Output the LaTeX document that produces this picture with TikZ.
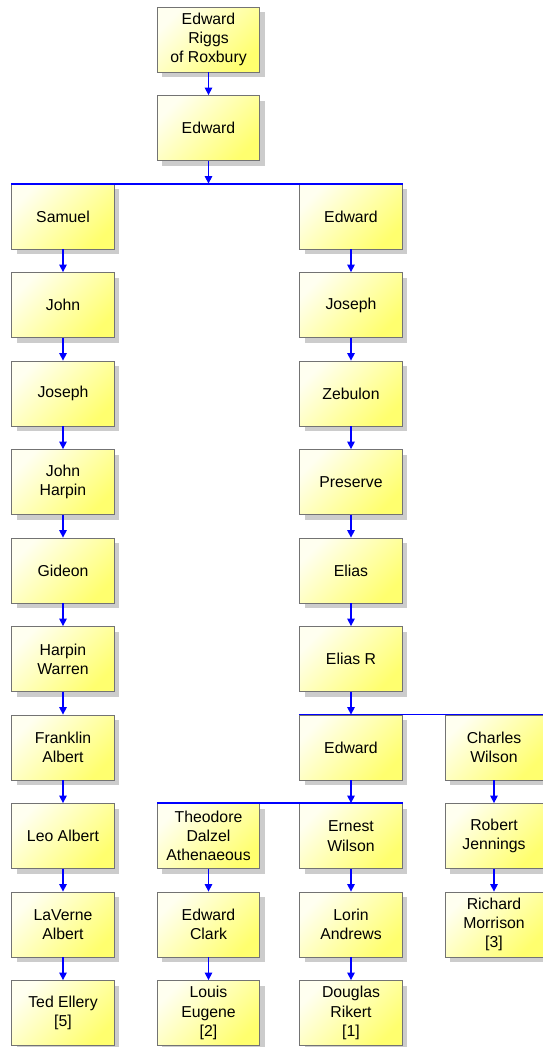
\documentclass[tikz,border=0pt]{standalone}
\usepackage{fontspec}
\setmainfont{Liberation Sans}
\usetikzlibrary{arrows.meta,shadows}

\definecolor{linkblue}{RGB}{0,0,255}
\definecolor{boxyellow}{RGB}{255,255,110}
\definecolor{boxedge}{RGB}{115,115,115}

\tikzset{
  person/.style={
    rectangle, draw=boxedge, line width=0.8pt,
    minimum width=102.5pt, minimum height=65pt, inner sep=0pt,
    align=center, font=\fontsize{15.8}{19.3}\selectfont,
    shading=axis, top color=yellow!6, bottom color=boxyellow,
    shading angle=45,
    drop shadow={shadow xshift=5pt, shadow yshift=-5pt, fill=black!20, opacity=1}
  },
  narrow/.style={person, minimum width=98pt},
  link/.style={draw=linkblue, line width=1.3pt,
    -{Triangle[length=7.5pt,width=7.5pt]}},
  bar/.style={draw=linkblue, line width=1.3pt}
}

\begin{document}
\begin{tikzpicture}[x=1pt,y=-1pt]
  \path[use as bounding box, clip] (0,0) rectangle (543,1047);

  % generations, top to bottom
  \node[person] (roxbury) at (208.5, 39.5) {Edward\\Riggs\\of Roxbury};
  \node[person] (edward1) at (208.5, 128) {Edward};

  % line of Samuel
  \node[person] (samuel)   at (63, 216.5) {Samuel};
  \node[person] (john)     at (63, 305)   {John};
  \node[person] (joseph1)  at (63, 393.5) {Joseph};
  \node[person] (johnh)    at (63, 482)   {John\\Harpin};
  \node[person] (gideon)   at (63, 570.5) {Gideon};
  \node[person] (harpin)   at (63, 659)   {Harpin\\Warren};
  \node[person] (franklin) at (63, 747.5) {Franklin\\Albert};
  \node[person] (leo)      at (63, 836)   {Leo Albert};
  \node[person] (laverne)  at (63, 924.5) {LaVerne\\Albert};
  \node[person] (ted)      at (63, 1013)  {Ted Ellery\\{[5]}};

  % line of Edward
  \node[person] (edward2)  at (351, 216.5) {Edward};
  \node[person] (joseph2)  at (351, 305)   {Joseph};
  \node[person] (zebulon)  at (351, 393.5) {Zebulon};
  \node[person] (preserve) at (351, 482)   {Preserve};
  \node[person] (elias)    at (351, 570.5) {Elias};
  \node[person] (eliasr)   at (351, 659)   {Elias R};
  \node[person] (edward3)  at (351, 747.5) {Edward};
  \node[person] (ernest)   at (351, 836)   {Ernest\\Wilson};
  \node[person] (lorin)    at (351, 924.5) {Lorin\\Andrews};
  \node[person] (douglas)  at (351, 1013)  {Douglas\\Rikert\\{[1]}};

  \node[person] (theodore) at (208.5, 836)   {Theodore\\Dalzel\\Athenaeous};
  \node[person] (edclark)  at (208.5, 924.5) {Edward\\Clark};
  \node[person] (louis)    at (208.5, 1013)  {Louis\\Eugene\\{[2]}};

  \node[narrow] (charles)  at (494, 747.5) {Charles\\Wilson};
  \node[narrow] (robert)   at (494, 836)   {Robert\\Jennings};
  \node[narrow] (richard)  at (494, 924.5) {Richard\\Morrison\\{[3]}};

  \coordinate (barend) at (edward3.north -| 545,0);

  % sibling bars
  \draw[bar] ([yshift=-0.5pt]samuel.north west) -- ([yshift=-0.5pt]edward2.north east);
  \draw[link] (edward1.south) -- (edward1.south |- samuel.north);

  \draw[bar] (edward3.north west) -- (barend);
  \draw[link] (eliasr.south) -- (edward3.north);

  \draw[bar] (theodore.north west) -- (ernest.north east);
  \draw[link] (edward3.south) -- (ernest.north);

  % single descents
  \draw[link] (roxbury) -- (edward1);
  \foreach \a/\b in {samuel/john, john/joseph1, joseph1/johnh, johnh/gideon,
                     gideon/harpin, harpin/franklin, franklin/leo, leo/laverne,
                     laverne/ted,
                     edward2/joseph2, joseph2/zebulon, zebulon/preserve,
                     preserve/elias, elias/eliasr,
                     ernest/lorin, lorin/douglas,
                     theodore/edclark, edclark/louis,
                     charles/robert, robert/richard}
    \draw[link] (\a.south) -- (\b.north);
\end{tikzpicture}
\end{document}
